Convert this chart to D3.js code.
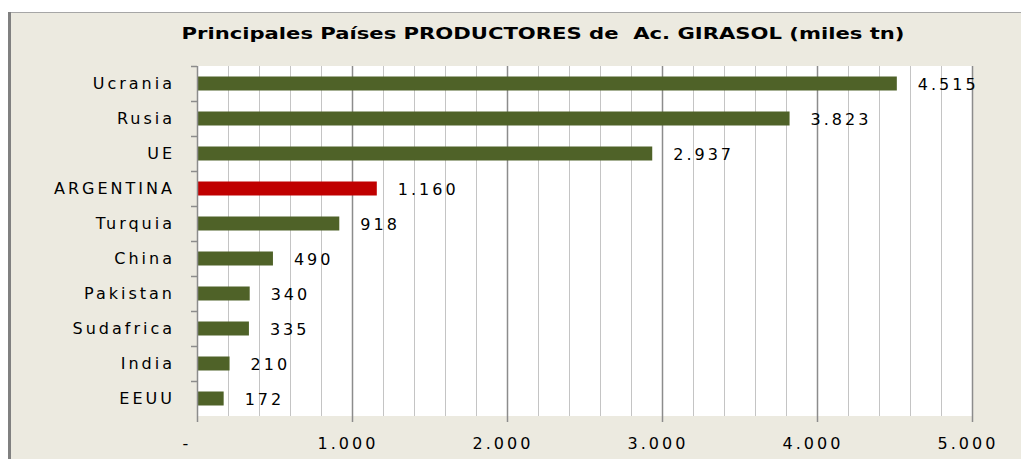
<!DOCTYPE html>
<html>
<head>
<meta charset="utf-8">
<script src="https://cdn.jsdelivr.net/npm/d3@7"></script>
<style>
  html, body { margin: 0; padding: 0; background: #ffffff; }
  svg { display: block; }
</style>
</head>
<body>
<svg id="chart" width="1021" height="459"></svg>
<script>
const titleText = "Principales Países PRODUCTORES de  Ac. GIRASOL (miles tn)";
const categories = ["Ucrania", "Rusia", "UE", "ARGENTINA", "Turquia", "China", "Pakistan", "Sudafrica", "India", "EEUU"];
const values = [4515, 3823, 2937, 1160, 918, 490, 340, 335, 210, 172];
const valueLabels = ["4.515", "3.823", "2.937", "1.160", "918", "490", "340", "335", "210", "172"];
const highlight = ["ARGENTINA"];
const xTicks = [0, 1000, 2000, 3000, 4000, 5000];
const xTickLabels = ["-", "1.000", "2.000", "3.000", "4.000", "5.000"];
const xMinorTicks = d3.range(0, 5001, 200);

const svg = d3.select("#chart");
const W = 1021, H = 459;
const plot = { left: 197, right: 972, top: 66, bottom: 416 };

// chart area background & frame
svg.append("rect").attr("x", 8).attr("y", 12).attr("width", W - 8).attr("height", H - 12).attr("fill", "#ECEAE0");
svg.append("line").attr("x1", 8).attr("x2", W).attr("y1", 12.5).attr("y2", 12.5).attr("stroke", "#A6A6A6").attr("stroke-width", 1);
svg.append("rect").attr("x", 8).attr("y", 12).attr("width", 3).attr("height", H - 12).attr("fill", "#808080");

// title
svg.append("text")
  .attr("x", 543).attr("y", 38.5)
  .attr("text-anchor", "middle")
  .attr("font-family", "'DejaVu Sans', Verdana, sans-serif")
  .attr("font-weight", "bold")
  .attr("font-size", 16)
  .attr("textLength", 723)
  .attr("lengthAdjust", "spacingAndGlyphs")
  .style("white-space", "pre")
  .attr("fill", "#000")
  .text(titleText);

const x = d3.scaleLinear().domain([0, 5000]).range([plot.left, plot.right]);
const yBand = d3.scaleBand().domain(categories).range([plot.top, plot.bottom]);

// plot background
svg.append("rect").attr("x", plot.left).attr("y", plot.top)
  .attr("width", plot.right - plot.left).attr("height", plot.bottom - plot.top).attr("fill", "#ffffff");

// minor gridlines
svg.append("g").selectAll("line").data(xMinorTicks.filter(d => d % 1000 !== 0)).join("line")
  .attr("x1", d => Math.round(x(d)) + 0.5).attr("x2", d => Math.round(x(d)) + 0.5)
  .attr("y1", plot.top).attr("y2", plot.bottom)
  .attr("stroke", "#C4C4C4").attr("stroke-width", 1);

// major gridlines (extend as ticks below)
svg.append("g").selectAll("line").data(xTicks.filter(d => d !== 0)).join("line")
  .attr("x1", d => Math.round(x(d)) + 0.5).attr("x2", d => Math.round(x(d)) + 0.5)
  .attr("y1", plot.top).attr("y2", plot.bottom + 6)
  .attr("stroke", "#8C8C8C").attr("stroke-width", 1.5);

// x axis tick labels
const fontLbl = "'DejaVu Sans', Verdana, sans-serif";
svg.append("g").selectAll("text").data(xTicks).join("text")
  .attr("x", d => x(d) + (d === 0 ? -10 : -4))
  .attr("y", 449)
  .attr("text-anchor", "middle")
  .attr("font-family", fontLbl)
  .attr("font-size", 16)
  .attr("letter-spacing", 3)
  .attr("fill", "#000")
  .text((d, i) => xTickLabels[i]);

// bars
svg.append("g").selectAll("rect").data(categories).join("rect")
  .attr("x", x(0))
  .attr("y", d => yBand(d) + yBand.bandwidth() / 2 - 7)
  .attr("width", (d, i) => x(values[i]) - x(0))
  .attr("height", 14)
  .attr("fill", d => highlight.includes(d) ? "#C00000" : "#4F6228");

// value labels
svg.append("g").selectAll("text").data(categories).join("text")
  .attr("x", (d, i) => x(values[i]) + 21)
  .attr("y", d => yBand(d) + yBand.bandwidth() / 2 + 6)
  .attr("font-family", fontLbl)
  .attr("font-size", 16)
  .attr("letter-spacing", 3)
  .attr("fill", "#000")
  .text((d, i) => valueLabels[i]);

// y axis
svg.append("line").attr("x1", plot.left + 0.5).attr("x2", plot.left + 0.5)
  .attr("y1", plot.top).attr("y2", plot.bottom + 6)
  .attr("stroke", "#8C8C8C").attr("stroke-width", 1.5);
const boundaries = categories.map(c => yBand(c));
svg.append("g").selectAll("line").data(boundaries).join("line")
  .attr("x1", plot.left - 6).attr("x2", plot.left)
  .attr("y1", d => Math.round(d) + 0.5).attr("y2", d => Math.round(d) + 0.5)
  .attr("stroke", "#8C8C8C").attr("stroke-width", 1.5);

// category labels
svg.append("g").selectAll("text").data(categories).join("text")
  .attr("x", 175)
  .attr("y", d => yBand(d) + yBand.bandwidth() / 2 + 5.5)
  .attr("text-anchor", "end")
  .attr("font-family", fontLbl)
  .attr("font-size", 16)
  .attr("letter-spacing", 3)
  .attr("fill", "#000")
  .text(d => d);
</script>
</body>
</html>
